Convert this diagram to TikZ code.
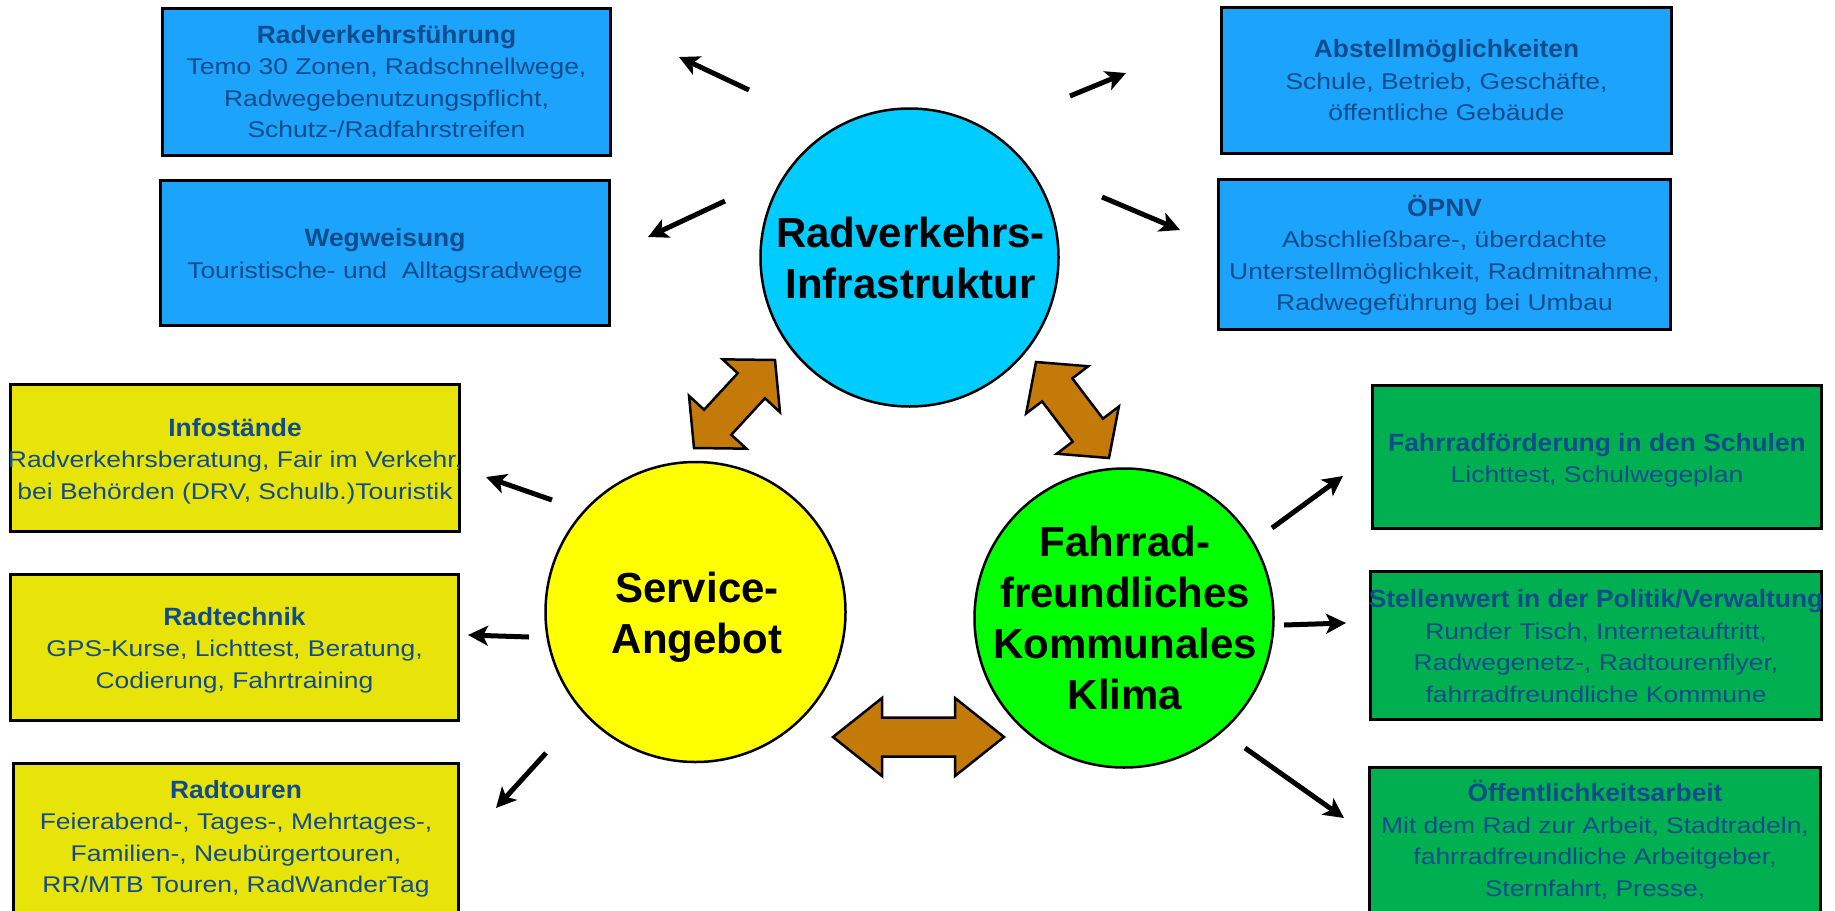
\documentclass[tikz,border=0pt]{standalone}
\usepackage{fontspec}
\setmainfont{Liberation Sans}
\newfontfamily\headfont[FakeStretch=1.055]{Liberation Sans}
\newfontfamily\bodyfont[FakeStretch=1.165]{Liberation Sans}
\usetikzlibrary{arrows.meta,calc}

\definecolor{boxblue}{RGB}{28,163,252}
\definecolor{circblue}{RGB}{0,204,255}
\definecolor{boxyellow}{RGB}{232,228,10}
\definecolor{circyellow}{RGB}{255,255,0}
\definecolor{boxgreen}{RGB}{0,176,80}
\definecolor{circgreen}{RGB}{0,255,0}
\definecolor{arrbrown}{RGB}{196,122,8}
\definecolor{txtblue}{RGB}{16,76,140}

\tikzset{
  infobox/.style={rectangle, draw=black, line width=3pt, inner sep=0pt},
  bluebox/.style={infobox, fill=boxblue},
  yellowbox/.style={infobox, fill=boxyellow},
  greenbox/.style={infobox, fill=boxgreen},
  boxtext/.style={align=center, text=txtblue, inner sep=0pt,
    font=\bodyfont\fontsize{22.7}{31.5}\selectfont},
  circ/.style={circle, draw=black, line width=2.5pt, inner sep=0pt, minimum size=298pt},
  circtext/.style={align=center, inner sep=0pt, text=black,
    font=\bfseries\fontsize{42}{51}\selectfont},
  ptr/.style={line width=5pt, draw=black, -{Stealth[length=20pt,width=20pt,inset=5pt]}},
  blockarr/.style={draw=black, fill=arrbrown, line width=2.5pt, line join=miter},
}
\newcommand{\hd}[1]{{\headfont\bfseries\fontsize{25}{31.5}\selectfont #1}}
\newcommand{\blockarrow}[6]{%
  \coordinate (#1a) at (#2);
  \coordinate (#1b) at (#3);
  \coordinate (#1h) at ($(#1a)!#4!(#1b)$);
  \coordinate (#1k) at ($(#1b)!#4!(#1a)$);
  \draw[blockarr] (#1a)
    -- ($(#1h)!#5!90:(#1b)$) -- ($(#1h)!#6!90:(#1b)$)
    -- ($(#1k)!#6!-90:(#1a)$) -- ($(#1k)!#5!-90:(#1a)$)
    -- (#1b)
    -- ($(#1k)!#5!90:(#1a)$) -- ($(#1k)!#6!90:(#1a)$)
    -- ($(#1h)!#6!-90:(#1b)$) -- ($(#1h)!#5!-90:(#1b)$)
    -- cycle;
}

\begin{document}
\begin{tikzpicture}[x=1pt,y=-1pt]
\clip (0,0) rectangle (1835,910);
\fill[white] (0,0) rectangle (1835,910);

% ---- boxes
\node[bluebox, minimum width=448pt, minimum height=147pt] (b1) at (386.5,82) {};
\node[bluebox, minimum width=449pt, minimum height=145pt] (b2) at (385,253) {};
\node[bluebox, minimum width=450pt, minimum height=146pt] (b3) at (1446.5,80.5) {};
\node[bluebox, minimum width=452pt, minimum height=150pt] (b4) at (1444.5,254.5) {};
\node[yellowbox, minimum width=449pt, minimum height=147pt] (b5) at (235,458) {};
\node[yellowbox, minimum width=448pt, minimum height=146pt] (b6) at (234.5,647.5) {};
\node[yellowbox, minimum width=445pt, minimum height=149pt] (b7) at (236,838) {};
\node[greenbox, minimum width=449pt, minimum height=143pt] (b8) at (1597,457) {};
\node[greenbox, minimum width=451pt, minimum height=148pt] (b9) at (1596,645.5) {};
\node[greenbox, minimum width=451pt, minimum height=156pt] (b10) at (1595,845.5) {};

% ---- box texts
\node[boxtext] (t1) at (386.5,81.7) {\hd{Radverkehrsführung}\\Temo 30 Zonen, Radschnellwege,\\Radwegebenutzungspflicht,\\Schutz-/Radfahrstreifen};
\node[boxtext] (t2) at (385,256) {\hd{Wegweisung}\\Touristische- und\ \ Alltagsradwege};
\node[boxtext] (t3) at (1446.5,80.5) {\hd{Abstellmöglichkeiten}\\Schule, Betrieb, Geschäfte,\\öffentliche Gebäude};
\node[boxtext] (t4) at (1444.5,255) {\hd{ÖPNV}\\Abschließbare-, überdachte\\Unterstellmöglichkeit, Radmitnahme,\\Radwegeführung bei Umbau};
\node[boxtext] (t5) at (235,461) {\hd{Infostände}\\Radverkehrsberatung, Fair im Verkehr,\\bei Behörden (DRV, Schulb.)Touristik};
\node[boxtext] (t6) at (234.5,650) {\hd{Radtechnik}\\GPS-Kurse, Lichttest, Beratung,\\Codierung, Fahrtraining};
\node[boxtext] (t7) at (236,839) {\hd{Radtouren}\\Feierabend-, Tages-, Mehrtages-,\\Familien-, Neubürgertouren,\\RR/MTB Touren, RadWanderTag};
\node[boxtext] (t8) at (1597,460.5) {\hd{Fahrradförderung in den Schulen}\\Lichttest, Schulwegeplan};
\node[boxtext] (t9) at (1596,646) {\hd{Stellenwert in der Politik/Verwaltung}\\Runder Tisch, Internetauftritt,\\Radwegenetz-, Radtourenflyer,\\fahrradfreundliche Kommune};
\node[boxtext] (t10) at (1595,840) {\hd{Öffentlichkeitsarbeit}\\Mit dem Rad zur Arbeit, Stadtradeln,\\fahrradfreundliche Arbeitgeber,\\Sternfahrt, Presse,};

% ---- circles
\node[circ, fill=circblue] (c1) at (909.5,257.5) {};
\node[circ, fill=circyellow, minimum size=300pt] (c2) at (695.5,612) {};
\node[circ, fill=circgreen, minimum size=299pt] (c3) at (1124,618) {};
\node[circtext] (ct1) at (910.5,257.6) {Radverkehrs-\\Infrastruktur};
\node[circtext] (ct2) at (697,617.5) {Service-\\Angebot};
\node[circtext] (ct3) at (1125,617.6) {Fahrrad-\\freundliches\\Kommunales\\Klima};

% ---- pointer arrows
\coordinate (p1s) at (749,90);   \coordinate (p1e) at (679,57);
\coordinate (p2s) at (725,201);  \coordinate (p2e) at (648,237);
\coordinate (p3s) at (1070,96);  \coordinate (p3e) at (1126,73);
\coordinate (p4s) at (1102,197); \coordinate (p4e) at (1180,230);
\coordinate (p5s) at (552,500);  \coordinate (p5e) at (486,477);
\coordinate (p6s) at (529,637);  \coordinate (p6e) at (468,635);
\coordinate (p7s) at (546,753);  \coordinate (p7e) at (496,808);
\coordinate (p8s) at (1272,528); \coordinate (p8e) at (1343,476);
\coordinate (p9s) at (1284,625); \coordinate (p9e) at (1346,623);
\coordinate (p10s) at (1245,748); \coordinate (p10e) at (1344,818);
\foreach \i in {1,...,10} { \draw[ptr] (p\i s) -- (p\i e); }

% ---- block double arrows
\blockarrow{da}{694,448}{775,360}{35pt}{39pt}{18.5pt}
\blockarrow{db}{1036,362}{1109,458}{35pt}{39pt}{19pt}
\blockarrow{dc}{833,737}{1004,737}{49pt}{39pt}{19.5pt}
\end{tikzpicture}
\end{document}
